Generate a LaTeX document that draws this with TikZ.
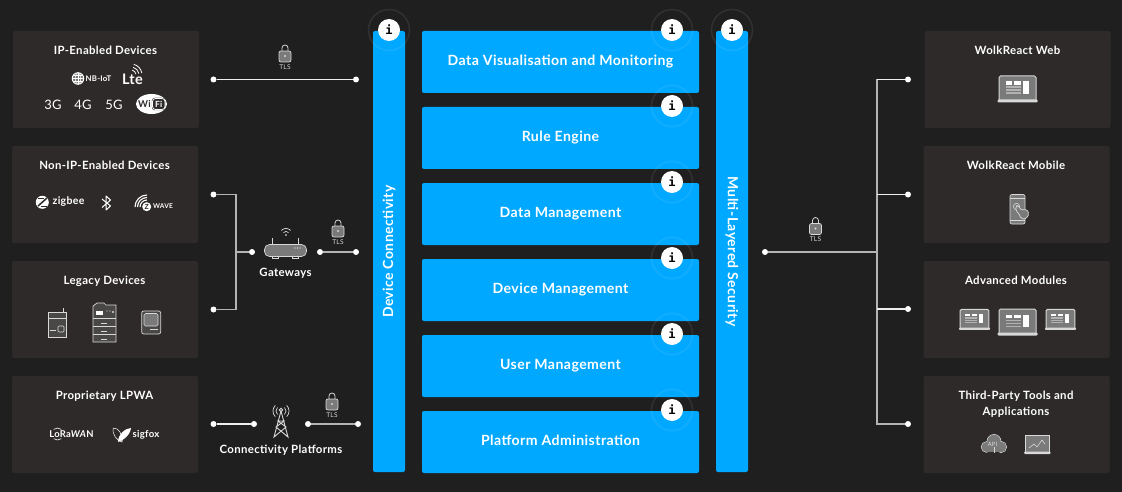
\documentclass[tikz,border=0pt]{standalone}
\usepackage{fontspec}
\setmainfont{Lato}[LetterSpace=3]
\newfontfamily\infofont{DejaVu Sans Mono}
\usepackage{tikz}
\usetikzlibrary{calc}
\definecolor{pagebg}{HTML}{1F1F1F}
\definecolor{panelbg}{HTML}{2E2A2A}
\definecolor{wolkblue}{HTML}{00A8FF}
\definecolor{icongrey}{HTML}{7A7A7A}
\definecolor{icondark}{HTML}{4A4747}
\definecolor{iconline}{HTML}{D8D8D8}
\definecolor{wirewhite}{HTML}{EEEEEE}
\definecolor{wiregrey}{HTML}{B4B4B4}
\tikzstyle{panel} = [rectangle, rounded corners=2pt, minimum width=186pt, minimum height=97pt, fill=panelbg, inner sep=0pt]
\tikzstyle{paneltitle} = [text=white, anchor=base, font=\fontsize{11.4pt}{16pt}\selectfont\bfseries, inner sep=0pt, align=center]
\tikzstyle{bluebar} = [rectangle, rounded corners=2pt, minimum width=441pt, minimum height=32pt, fill=wolkblue, text=white, inner sep=0pt, font=\fontsize{14pt}{16pt}\selectfont\bfseries]
\tikzstyle{stackbox} = [rectangle, rounded corners=2pt, minimum width=277pt, minimum height=62pt, fill=wolkblue, text=white, inner sep=0pt, text height=10pt, text depth=3pt, font=\fontsize{14.1pt}{16pt}\selectfont\bfseries]
\tikzstyle{infodot} = [circle, minimum size=22pt, inner sep=0pt, fill=white, text=black, font=\infofont\fontsize{12pt}{12pt}\selectfont\bfseries]
\tikzstyle{halo} = [white, opacity=0.08, line width=1.6pt]
\tikzstyle{conndot} = [circle, minimum size=6pt, inner sep=0pt, fill=white]
\tikzstyle{whitewire} = [wirewhite, line width=1.1pt]
\tikzstyle{greywire} = [wiregrey, line width=1.3pt]
\tikzstyle{icon} = [draw=iconline, fill=icongrey, line width=0.7pt]
\tikzstyle{oldicon} = [draw=iconline, fill=icondark, line width=0.7pt]
\tikzstyle{tiny} = [text=iconline, inner sep=0pt, font=\fontsize{6.6pt}{7pt}\selectfont]
\tikzstyle{logotext} = [text=white, inner sep=0pt, font=\bfseries]
\newcommand{\tlslock}[4]{% x, y of the label, name
  \draw[iconline, line width=0.8pt] (#1-3,#2-15) -- (#1-3,#2-19) arc[start angle=-180, end angle=0, radius=3] -- (#1+3,#2-15);
  \draw[icon, rounded corners=2pt] (#1-6,#2-16) rectangle (#1+6,#2-5);
  \fill[iconline] (#1,#2-11) circle (1.2);
  \node[tiny] (#3) at (#1,#2) {#4};
}
\newcommand{\laptopicon}[3]{% x, y, scale
  \begin{scope}[shift={(#1,#2)}, scale=#3]
    \draw[iconline, fill=icongrey, line width=1pt, rounded corners=1.5pt] (-18.5,11.5) -- (-18.5,-13) -- (18.5,-13) -- (18.5,11.5);
    \fill[white] (5.2,-7.5) rectangle (11.2,5);
    \fill[white] (-11.8,-7.5) rectangle (-5.2,-4);
    \fill[white] (-3.2,-7.5) rectangle (3.5,-4);
    \fill[iconline, opacity=0.6] (-11.8,-2.5) rectangle (3.5,-1);
    \fill[iconline, opacity=0.6] (-11.8,0.5) rectangle (3.5,2);
    \fill[iconline, opacity=0.6] (-11.8,3.5) rectangle (3.5,5);
    \fill[iconline, rounded corners=1pt] (-20,10.5) rectangle (20,13.5);
  \end{scope}
}
\begin{document}
\begin{tikzpicture}[x=1pt, y=-1pt]
  \fill[pagebg] (0,0) rectangle (1122,492);
  \useasboundingbox (0,0) rectangle (1122,492);

  % Left panels
  \node[panel] (ipdevices) at (106,79.5) {};
  \node[panel] (nonip) at (105,194.5) {};
  \node[panel] (legacy) at (105,309.5) {};
  \node[panel] (lpwa) at (105,424.5) {};
  \node[paneltitle] (ipdevicestitle) at (105.5,54.5) {IP-Enabled Devices};
  \node[paneltitle] (noniptitle) at (104.5,169.5) {Non-IP-Enabled Devices};
  \node[paneltitle] (legacytitle) at (104.5,284.5) {Legacy Devices};
  \node[paneltitle] (lpwatitle) at (104.5,399.5) {Proprietary LPWA};

  % Right panels
  \node[panel] (web) at (1017.5,79.5) {};
  \node[panel] (mobile) at (1016.5,194.5) {};
  \node[panel] (modules) at (1016.5,309.5) {};
  \node[panel] (thirdparty) at (1016.5,424.5) {};
  \node[paneltitle] (webtitle) at (1017.5,54.5) {WolkReact Web};
  \node[paneltitle] (mobiletitle) at (1016,169.5) {WolkReact Mobile};
  \node[paneltitle] (modulestitle) at (1016,284.5) {Advanced Modules};
  \node[paneltitle] (thirdpartytitle) at (1016,415) {Third-Party Tools and\\Applications};

  % Blue bars and stack
  \node[bluebar, rotate=90] (devconn) at (389,251.5) {Device Connectivity};
  \node[bluebar, rotate=-90] (security) at (732,251.5) {Multi-Layered Security};
  \node[stackbox] (visual) at (560.5,62) {Data Visualisation and Monitoring};
  \node[stackbox] (rules) at (560.5,138) {Rule Engine};
  \node[stackbox] (datamgmt) at (560.5,214) {Data Management};
  \node[stackbox] (devmgmt) at (560.5,290) {Device Management};
  \node[stackbox] (usermgmt) at (560.5,366) {User Management};
  \node[stackbox] (platform) at (560.5,442) {Platform Administration};

  % Info buttons
  \draw[halo] (389,30) circle (20.5);
  \draw[halo] (672,30) circle (20.5);
  \draw[halo] (672,106) circle (20.5);
  \draw[halo] (672,182) circle (20.5);
  \draw[halo] (672,258) circle (20.5);
  \draw[halo] (672,334) circle (20.5);
  \draw[halo] (672,410) circle (20.5);
  \draw[halo] (732,30) circle (20.5);
  \node[infodot] (infoconn) at (389,30) {i};
  \node[infodot] (infovisual) at (672,30) {i};
  \node[infodot] (inforules) at (672,106) {i};
  \node[infodot] (infodata) at (672,182) {i};
  \node[infodot] (infodevice) at (672,258) {i};
  \node[infodot] (infouser) at (672,334) {i};
  \node[infodot] (infoplatform) at (672,410) {i};
  \node[infodot] (infosecurity) at (732,30) {i};

  % Connectors left
  \node[conndot] (ipstart) at (213.5,79.5) {};
  \node[conndot] (ipend) at (356,79.5) {};
  \draw[whitewire] (ipstart) -- (ipend);
  \node[conndot] (nonipstart) at (213.5,194.5) {};
  \node[conndot] (legacystart) at (213.5,309.5) {};
  \node[conndot] (gatewayin) at (252,252) {};
  \node[conndot] (gatewayout) at (320,252) {};
  \node[conndot] (gatewayend) at (356,252) {};
  \coordinate (gatewayjoin) at (236,252);
  \draw[greywire] (nonipstart) -| (gatewayjoin) |- (legacystart);
  \draw[greywire] (gatewayjoin) -- (gatewayin);
  \draw[greywire] (gatewayout) -- (gatewayend);
  \node[conndot] (lpwastart) at (213.5,424) {};
  \node[conndot] (lpwain) at (254,424) {};
  \node[conndot] (lpwaout) at (308,424) {};
  \node[conndot] (lpwaend) at (358,424) {};
  \draw[whitewire] (lpwastart) -- (lpwain);
  \draw[greywire] (lpwaout) -- (lpwaend);

  % Connectors right
  \node[conndot] (apistart) at (765,252) {};
  \node[conndot] (webend) at (908,79.5) {};
  \node[conndot] (mobileend) at (908,194.5) {};
  \node[conndot] (modulesend) at (908,309) {};
  \node[conndot] (thirdend) at (908,424) {};
  \coordinate (apijoin) at (877,252);
  \draw[greywire] (apistart) -- (apijoin);
  \draw[greywire] (webend) -| (apijoin);
  \draw[greywire] (thirdend) -| (apijoin);
  \draw[whitewire] (apijoin |- mobileend) -- (mobileend);
  \draw[whitewire] (apijoin |- modulesend) -- (modulesend);
  \draw[whitewire] (apijoin |- webend) -- (webend);

  % TLS locks
  \tlslock{285}{67}{tlsip}{TLS}
  \tlslock{338}{242}{tlsgateway}{TLS}
  \tlslock{332}{415}{tlslpwa}{TLS}
  \tlslock{815.5}{239.5}{tlsapi}{TLS}

  % Gateway router
  \draw[iconline, line width=0.8pt] (272,245) -- (272,238);
  \draw[iconline, line width=0.8pt] (298,245) -- (298,238);
  \draw[iconline, line width=0.8pt] (272,256) -- (272,258.5) -- (278,258.5) -- (278,256);
  \draw[iconline, line width=0.8pt] (292,256) -- (292,258.5) -- (298,258.5) -- (298,256);
  \draw[icon, rounded corners=5pt] (264.5,244.5) rectangle (306.5,256.5);
  \fill[white] (295,248) circle (0.7) (297.5,248) circle (0.7) (300,248) circle (0.7);
  \fill[white] (286,235) circle (0.9);
  \draw[white, line width=0.6pt] (286,235) ++(-135:3.5) arc[start angle=-135, end angle=-45, radius=3.5];
  \draw[white, line width=0.6pt] (286,235) ++(-135:6.5) arc[start angle=-135, end angle=-45, radius=6.5];
  \node[paneltitle] (gatewaytitle) at (285.5,276) {Gateways};

  % Radio tower
  \draw[iconline, line width=0.9pt] (281,411) -- (274,437) -- (286,427) -- (278,421) -- (284,421) -- (276,427) -- (288,437) -- cycle;
  \draw[iconline, line width=0.9pt] (281,410) circle (1.8);
  \draw[iconline, line width=0.7pt] (281,411) ++(135:5) arc[start angle=135, end angle=225, radius=5];
  \draw[iconline, line width=0.7pt] (281,411) ++(135:8) arc[start angle=135, end angle=225, radius=8];
  \draw[iconline, line width=0.7pt] (281,411) ++(45:5) arc[start angle=45, end angle=-45, radius=5];
  \draw[iconline, line width=0.7pt] (281,411) ++(45:8) arc[start angle=45, end angle=-45, radius=8];
  \node[paneltitle] (platformtitle) at (281,453) {Connectivity Platforms};

  % IP logos
  \draw[white, fill=icongrey, line width=0.9pt] (78,78.5) circle (5.8);
  \draw[white, line width=0.5pt] (72.2,78.5) -- (83.8,78.5) (73,75.5) -- (83,75.5) (73,81.5) -- (83,81.5) (78,72.7) -- (78,84.3);
  \draw[white, line width=0.5pt] (78,78.5) ellipse (2.8 and 5.8);
  \node[logotext, font=\fontsize{7.8pt}{8pt}\selectfont\bfseries] (nbiot) at (98.5,79) {NB-IoT};
  \node[logotext, font=\fontsize{14.5pt}{14pt}\selectfont\bfseries] (lte) at (132.5,79) {Lte};
  \draw[white, line width=0.8pt] (131,75) ++(-75:5) arc[start angle=-75, end angle=-10, radius=5];
  \draw[white, line width=0.8pt] (131,75) ++(-75:8) arc[start angle=-75, end angle=-10, radius=8];
  \draw[white, line width=0.8pt] (131,75) ++(-75:11) arc[start angle=-75, end angle=-10, radius=11];
  \node[text=white, inner sep=0pt, font=\fontsize{13pt}{13pt}\selectfont] (threeg) at (53,105) {3G};
  \node[text=white, inner sep=0pt, font=\fontsize{13pt}{13pt}\selectfont] (fourg) at (83,105) {4G};
  \node[text=white, inner sep=0pt, font=\fontsize{13pt}{13pt}\selectfont] (fiveg) at (114,105) {5G};
  \fill[white] (151.5,104) ellipse (15.5 and 10);
  \draw[panelbg, fill=panelbg, rounded corners=3pt] (152,98) rectangle (165,110);
  \draw[white, line width=0.8pt, rounded corners=3pt] (152.5,98.5) rectangle (165,109.5);
  \node[inner sep=0pt, text=panelbg, font=\fontsize{9.5pt}{9pt}\selectfont\bfseries] (wifiwi) at (144.5,104) {Wi};
  \node[logotext, font=\fontsize{8.5pt}{9pt}\selectfont\bfseries] (wififi) at (158.7,104) {Fi};

  % Non-IP logos
  \fill[white] (42.3,202.3) circle (6.5);
  \draw[panelbg, line width=1.5pt] (38,206) -- (47,198);
  \draw[panelbg, line width=0.8pt] (38,198.5) -- (44,198.5) (41,206.5) -- (47,206.5);
  \node[logotext, font=\fontsize{10.5pt}{11pt}\selectfont\bfseries] (zigbee) at (68.5,202) {zigbee};
  \draw[white, line width=1pt, line join=round] (102,199) -- (110.5,206) -- (106,210) -- (106,196) -- (110.5,200) -- (102,207.5);
  \draw[white, line width=1.1pt] (147,207) ++(180:7) arc[start angle=180, end angle=270, radius=7];
  \draw[white, line width=1.1pt] (147,207) ++(180:9.5) arc[start angle=180, end angle=270, radius=9.5];
  \draw[white, line width=1.1pt] (147,207) ++(180:12) arc[start angle=180, end angle=270, radius=12];
  \node[circle, fill=white, inner sep=0pt, minimum size=9pt, text=panelbg, font=\fontsize{7pt}{7pt}\selectfont\bfseries] (zwavez) at (146.7,206.7) {Z};
  \node[logotext, font=\fontsize{6.6pt}{7pt}\selectfont\bfseries] (zwave) at (163,206) {WAVE};

  % Legacy icons
  \draw[oldicon] (48.5,312) rectangle (66.7,337);
  \draw[iconline, line width=0.6pt] (63.3,312) -- (63.3,308);
  \draw[iconline, line width=0.6pt] (48.5,318) -- (66.7,318);
  \draw[iconline, line width=0.6pt, rounded corners=1pt] (58,326) rectangle (64,332);
  \draw[iconline, line width=0.6pt] (50,330) -- (56,330);
  \draw[oldicon] (93,342) -- (93,306) -- (97,303) -- (104,303) -- (106,305) -- (116,305) -- (116,342) -- cycle;
  \fill[white] (96,310.5) rectangle (103,314.5);
  \fill[iconline] (107,311) circle (0.7) (110,311) circle (0.7) (113,312) circle (1.2);
  \draw[iconline, line width=0.5pt] (93,318) -- (116,318) (93,326) -- (116,326) (93,334) -- (116,334);
  \draw[iconline, line width=0.5pt] (101,323) -- (107,323) (101,331) -- (107,331) (101,339) -- (107,339);
  \draw[oldicon, rounded corners=2pt] (141.7,311) rectangle (160.7,334);
  \draw[iconline, fill=icongrey, line width=0.6pt, rounded corners=1.5pt] (144,313.5) rectangle (158,326);
  \draw[iconline, line width=0.6pt] (150,329) -- (158,329);

  % LPWA logos
  \node[logotext, font=\fontsize{9.4pt}{10pt}\selectfont\bfseries] (lorawan) at (71.5,434.5) {LoRa\textit{WA}N};
  \draw[white, line width=0.6pt] (57.5,434) ++(-130:6) arc[start angle=-130, end angle=-50, radius=6];
  \draw[white, line width=0.6pt] (57.5,434) ++(130:6) arc[start angle=130, end angle=50, radius=6];
  \draw[white, line width=0.5pt] (113,428) .. controls (118,427) and (124,436) .. (122,442) .. controls (117,441) and (112,434) .. (113,428);
  \fill[white] (131,428) .. controls (126,428) and (118,434) .. (118,442) .. controls (122,441) and (130,436) .. (131,428);
  \node[logotext, font=\fontsize{9.6pt}{10pt}\selectfont\bfseries] (sigfox) at (146,434.5) {sigfox};

  % Client icons
  \laptopicon{1017.5}{89}{1}
  \laptopicon{1017.5}{322}{1}
  \laptopicon{974.5}{319.4}{0.78}
  \laptopicon{1060.5}{319.4}{0.78}

  % Phone with hand
  \draw[icon, fill=icongrey, rounded corners=2pt] (1010,194.5) rectangle (1025,224);
  \draw[iconline, line width=0.5pt] (1010,198.5) -- (1025,198.5) (1010,220) -- (1025,220);
  \draw[iconline, line width=0.6pt] (1016.5,206.5) circle (3.2);
  \draw[iconline, fill=icongrey, line width=0.7pt, rounded corners=1.5pt] (1016,206) -- (1018,205.5) -- (1021,210) -- (1027,209.5) -- (1029,214) -- (1026,219) -- (1021,218.5) -- (1018.5,213) -- (1016,211) -- cycle;

  % Third party icons
  \draw[icon] (994,441.5) circle (7);
  \draw[icon] (986.5,447) circle (5.3);
  \draw[icon] (1001,447) circle (5.6);
  \fill[icongrey] (994,441.5) circle (6.6);
  \fill[icongrey] (986.5,447) circle (4.9);
  \fill[icongrey] (1001,447) circle (5.2);
  \fill[icongrey] (986.5,445) rectangle (1001,451.9);
  \node[inner sep=0pt, text=iconline, font=\fontsize{5.8pt}{6pt}\selectfont] (cloudapi) at (992.5,444) {API};
  \draw[iconline, line width=0.6pt] (994.3,447) -- (994.3,453);
  \draw[iconline, fill=icongrey, line width=0.9pt] (1025,452) -- (1025,435.5) -- (1049.5,435.5) -- (1049.5,452);
  \draw[iconline, line width=0.6pt] (1029,448) -- (1034,444) -- (1037,447) -- (1042,440) -- (1045,444);
  \fill[iconline, rounded corners=1pt] (1024,451.5) rectangle (1050.5,454);
\end{tikzpicture}
\end{document}
